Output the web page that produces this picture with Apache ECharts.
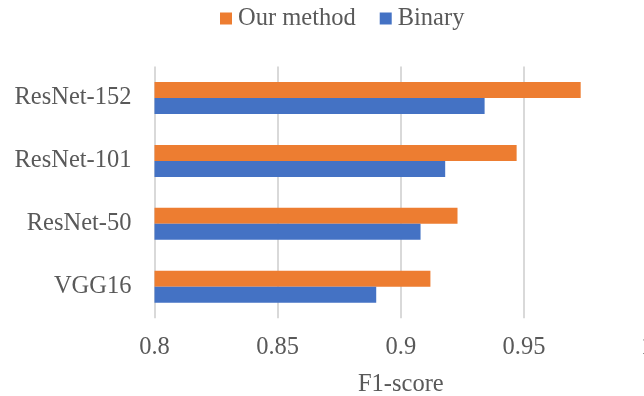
<!DOCTYPE html>
<html>
<head>
<meta charset="utf-8">
<script src="https://cdn.jsdelivr.net/npm/echarts@6/dist/echarts.min.js"></script>
<style>
  html, body { margin: 0; padding: 0; background: #fff; }
  #chart { width: 644px; height: 396px; }
</style>
</head>
<body>
<div id="chart"></div>
<script>
// F1-score per backbone network (bottom to top on the category axis)
const categories = ['VGG16', 'ResNet-50', 'ResNet-101', 'ResNet-152'];
const ourMethod = [0.912, 0.923, 0.947, 0.973];
const binary = [0.890, 0.908, 0.918, 0.934];
const xTicks = { min: 0.8, max: 1.0, step: 0.05 };

const FONT = "'Liberation Serif', 'Times New Roman', serif";
const TEXT = '#595959';

const chart = echarts.init(document.getElementById('chart'), null, { renderer: 'canvas' });
chart.setOption({
  animation: false,
  backgroundColor: '#ffffff',
  textStyle: { fontFamily: FONT, color: TEXT },
  legend: {
    data: ['Our method', 'Binary'],
    left: 220,
    top: 6,
    padding: 0,
    icon: 'rect',
    itemWidth: 12,
    itemHeight: 12,
    itemGap: 24,
    textStyle: { fontFamily: FONT, fontSize: 24.5, color: TEXT, padding: [0, 0, 0, 1] }
  },
  // plot area runs past the right edge of the canvas so the 1.0 line is cut off
  grid: {
    left: 154.5, width: 492.7, top: 66.5, bottom: 77.8,
    containLabel: false,
    outerBoundsMode: 'none'
  },
  xAxis: {
    type: 'value',
    min: xTicks.min,
    max: xTicks.max,
    interval: xTicks.step,
    name: 'F1-score',
    nameLocation: 'middle',
    nameGap: 54,
    nameTextStyle: { fontFamily: FONT, fontSize: 24.5, color: TEXT },
    axisLine: { show: false },
    axisTick: { show: false },
    axisLabel: { fontFamily: FONT, fontSize: 24.5, color: TEXT, margin: 16.5 },
    splitLine: { show: true, lineStyle: { color: '#d9d9d9', width: 2 } }
  },
  yAxis: {
    type: 'category',
    data: categories,
    axisLine: { show: false },
    axisTick: { show: false },
    axisLabel: { fontFamily: FONT, fontSize: 24.5, color: TEXT, margin: 23 },
    splitLine: { show: false }
  },
  series: [
    {
      name: 'Our method',
      type: 'bar',
      data: ourMethod,
      barWidth: 16,
      barGap: '0%',
      itemStyle: { color: '#ED7D31' }
    },
    {
      name: 'Binary',
      type: 'bar',
      data: binary,
      barWidth: 16,
      barGap: '0%',
      itemStyle: { color: '#4472C4' }
    }
  ]
});
</script>
</body>
</html>
